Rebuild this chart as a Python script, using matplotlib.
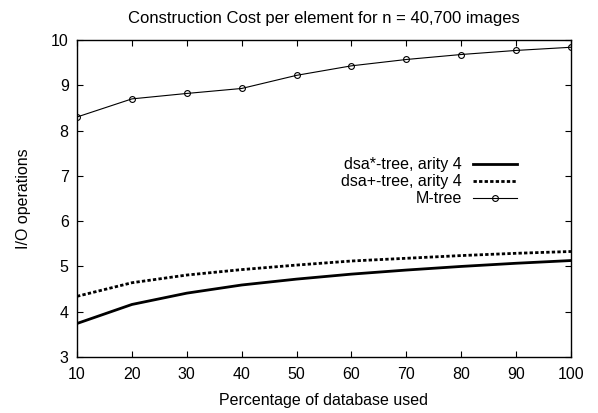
import matplotlib
matplotlib.use("Agg")
import matplotlib.pyplot as plt

plt.rcParams['font.family'] = ['Liberation Sans', 'DejaVu Sans']

# percentage of database used
pct = [10, 20, 30, 40, 50, 60, 70, 80, 90, 100]

# I/O operations per element
dsa_star = [3.74, 4.16, 4.41, 4.59, 4.72, 4.83, 4.92, 5.00, 5.07, 5.13]
dsa_plus = [4.34, 4.64, 4.81, 4.93, 5.03, 5.12, 5.18, 5.24, 5.29, 5.33]
mtree = [8.30, 8.70, 8.82, 8.93, 9.22, 9.43, 9.57, 9.68, 9.77, 9.84]

fs = 11.5

fig = plt.figure(figsize=(5.98, 4.13), dpi=100)
ax = fig.add_axes([0.1288, 0.1356, 0.826, 0.7675])

ax.plot(pct, dsa_star, color='black', lw=2.0, label='dsa*-tree, arity 4')
ax.plot(pct, dsa_plus, color='black', lw=2.0, linestyle=(0, (1.2, 0.8)),
        label='dsa+-tree, arity 4')
ax.plot(pct, mtree, color='black', lw=0.8, marker='o', markersize=4.2,
        markerfacecolor='none', markeredgewidth=0.8, label='M-tree')

ax.set_xlim(10, 100)
ax.set_ylim(3, 10)
ax.set_xticks(pct)
ax.set_yticks(range(3, 11))
ax.tick_params(direction='in', top=True, right=True, length=4, width=0.8,
               labelsize=fs)
ax.tick_params(axis='x', pad=7)
ax.tick_params(axis='y', pad=6)
for s in ax.spines.values():
    s.set_linewidth(1.0)

ax.set_title('Construction Cost per element for n = 40,700 images',
             fontsize=12, pad=12)
ax.set_xlabel('Percentage of database used', fontsize=fs, labelpad=8)
ax.set_ylabel('I/O operations', fontsize=fs, labelpad=14)

ax.legend(loc='upper right', bbox_to_anchor=(0.891, 0.63), frameon=False,
          markerfirst=False, fontsize=fs, handlelength=2.75, handletextpad=0.7,
          labelspacing=0.12, borderaxespad=0, borderpad=0)

fig.savefig('out.png', dpi=100)
